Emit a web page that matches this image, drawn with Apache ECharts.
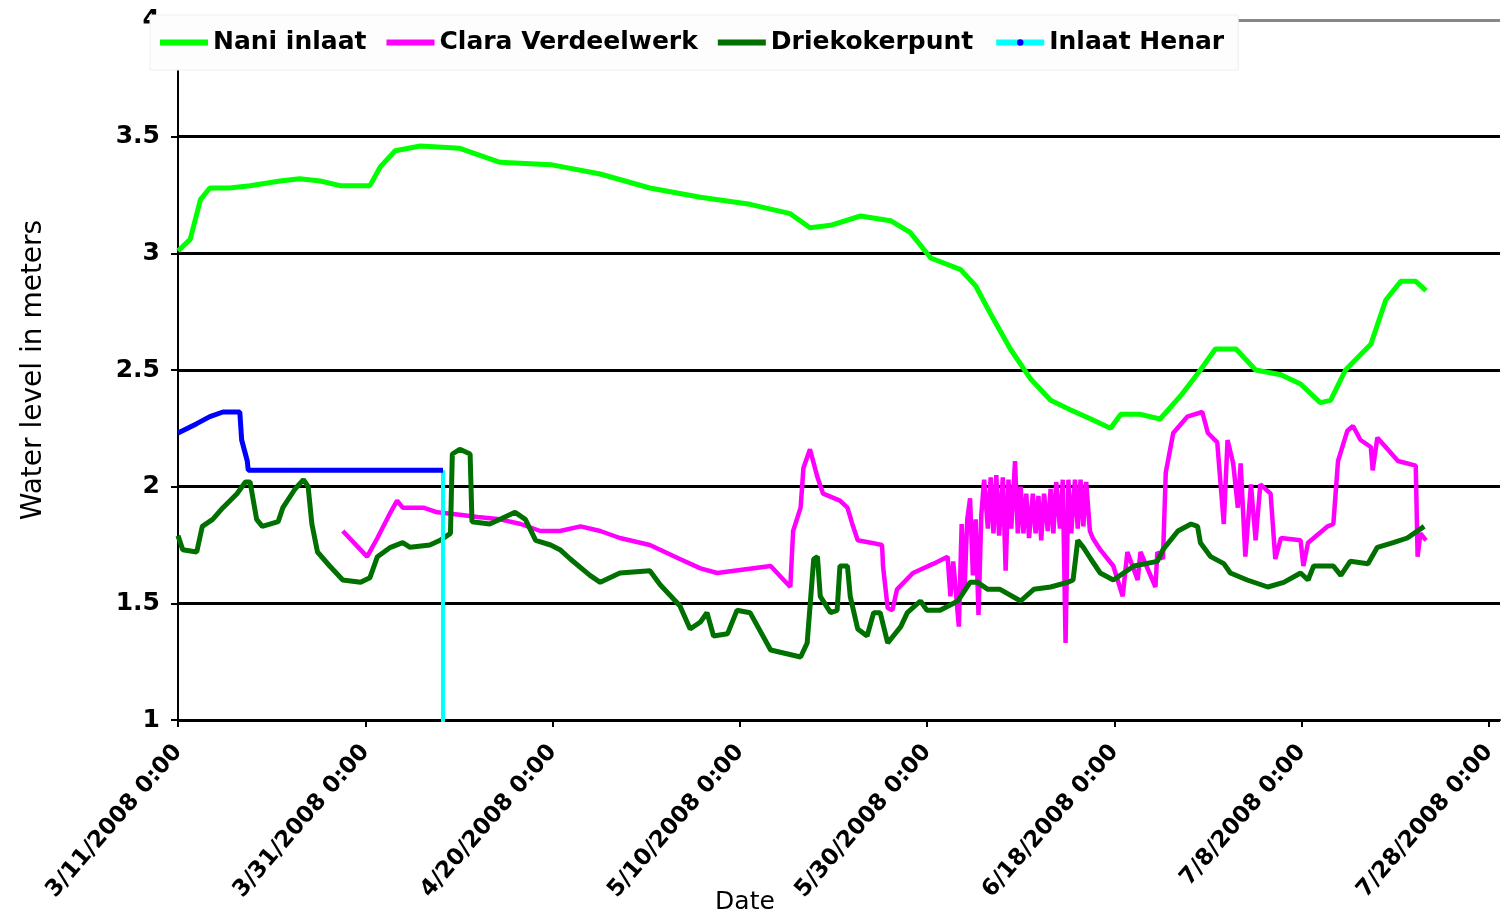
<!DOCTYPE html>
<html>
<head>
<meta charset="utf-8">
<script src="https://cdn.jsdelivr.net/npm/echarts@6/dist/echarts.min.js"></script>
<style>html,body{margin:0;padding:0;background:#fff;}#chart{width:1502px;height:918px;}</style>
</head>
<body>
<div id="chart"></div>
<script>
// x values are days since 3/11/2008 0:00
const xTickLabels = ['3/11/2008 0:00','3/31/2008 0:00','4/20/2008 0:00','5/10/2008 0:00','5/30/2008 0:00','6/18/2008 0:00','7/8/2008 0:00','7/28/2008 0:00'];
const seriesNames = ['Nani inlaat','Clara Verdeelwerk','Driekokerpunt','Inlaat Henar'];

const naniDays = [0,1.3,2.4,3.4,5.5,7.7,10.9,13.0,15.2,17.3,20.5,21.6,23.2,25.9,30.1,34.4,39.8,45.1,50.4,55.8,61.1,65.4,67.5,69.7,72.9,76.1,78.2,80.4,83.6,85.2,86.8,88.9,91.1,93.2,95.3,97.5,99.6,100.7,102.8,104.9,107.1,109.2,110.8,113.0,115.1,117.8,119.9,122.0,123.1,124.7,127.4,129.0,130.6,132.2,133.3];
const naniLevels = [3.01,3.06,3.23,3.28,3.28,3.29,3.31,3.32,3.31,3.29,3.29,3.37,3.44,3.46,3.45,3.39,3.38,3.34,3.28,3.24,3.21,3.17,3.11,3.12,3.16,3.14,3.09,2.98,2.93,2.86,2.74,2.59,2.46,2.37,2.33,2.29,2.25,2.31,2.31,2.29,2.39,2.50,2.59,2.59,2.50,2.48,2.44,2.36,2.37,2.50,2.61,2.80,2.88,2.88,2.84];

const claraDays = [17.6,20.2,21.3,22.7,23.4,24.0,26.2,27.7,30.1,32.0,34.4,36.6,38.7,40.8,43.0,45.1,47.2,50.4,53.6,55.8,57.6,63.3,65.4,65.7,66.5,66.8,67.5,68.3,68.9,70.7,71.5,72.1,72.6,74.0,75.2,75.3,75.8,76.3,76.8,78.5,80.7,82.2,82.5,82.8,
  83.4,83.7,84.0,84.3,84.6,84.9,85.2,85.5,85.8,86.1,86.5,86.8,87.1,87.4,87.7,88.1,88.4,88.7,89.0,89.4,89.7,90.0,90.3,90.6,90.9,91.3,91.6,91.9,92.2,92.5,92.9,93.2,93.5,93.8,94.2,94.5,94.8,95.1,95.4,95.8,96.1,96.4,96.7,97.0,97.4,97.7,
  98.5,99.9,100.9,101.4,102.5,102.8,104.4,104.6,105.2,105.5,106.3,107.8,109.4,110.0,111.0,111.7,112.1,112.7,113.2,113.5,114.0,114.6,115.1,115.6,116.7,117.2,117.8,119.9,120.2,120.7,122.8,123.4,123.9,124.9,125.5,126.3,127.4,127.6,128.1,129.2,130.3,132.2,132.4,132.7,133.3];
const claraLevels = [1.81,1.70,1.78,1.89,1.94,1.91,1.91,1.89,1.88,1.87,1.86,1.84,1.81,1.81,1.83,1.81,1.78,1.75,1.69,1.65,1.63,1.66,1.57,1.81,1.91,2.08,2.16,2.04,1.97,1.94,1.91,1.83,1.77,1.76,1.75,1.66,1.48,1.47,1.56,1.63,1.67,1.70,1.53,1.68,
  1.40,1.84,1.55,1.86,1.95,1.62,1.86,1.45,1.88,2.03,1.82,2.04,1.80,2.05,1.79,2.04,1.64,2.03,1.82,2.11,1.80,2.00,1.80,1.97,1.78,1.97,1.80,1.96,1.77,1.97,1.81,1.99,1.80,2.02,1.82,2.03,1.33,2.03,1.80,2.03,1.82,2.03,1.83,2.02,1.81,1.78,
  1.73,1.66,1.53,1.72,1.60,1.72,1.57,1.72,1.69,2.06,2.23,2.30,2.32,2.23,2.19,1.84,2.20,2.10,1.91,2.10,1.70,2.01,1.77,2.01,1.97,1.69,1.78,1.77,1.66,1.76,1.83,1.84,2.11,2.24,2.26,2.20,2.17,2.07,2.21,2.16,2.11,2.09,1.70,1.80,1.77];

const drieDays = [0,0.5,2.0,2.6,3.7,4.8,6.3,7.2,7.7,8.4,9.0,10.7,11.2,12.5,13.4,13.9,14.3,14.9,16.2,17.6,19.5,20.5,21.3,22.7,24.0,24.8,26.9,28.0,29.1,29.3,30.1,31.2,31.4,33.3,34.4,36.0,37.1,38.2,39.8,40.8,41.9,44.0,45.1,47.2,50.4,51.5,53.6,54.7,55.8,56.5,57.2,58.7,59.7,61.1,63.3,66.5,67.2,67.9,68.3,68.6,69.7,70.4,70.7,71.5,71.8,72.6,73.6,74.3,75.0,75.8,77.2,77.9,79.3,80.0,81.4,83.3,84.6,85.4,86.5,87.8,90.0,91.4,93.2,95.0,95.6,96.1,96.7,97.5,98.5,99.9,102.1,104.6,105.2,106.8,108.2,108.9,109.2,110.3,111.7,112.4,114.2,116.4,118.1,119.9,120.7,121.3,123.4,124.2,125.2,127.1,128.1,129.8,131.3,133.1];
const drieLevels = [1.79,1.73,1.72,1.83,1.86,1.91,1.97,2.02,2.02,1.86,1.83,1.85,1.91,1.99,2.03,2.00,1.84,1.72,1.66,1.60,1.59,1.61,1.70,1.74,1.76,1.74,1.75,1.77,1.80,2.14,2.16,2.14,1.85,1.84,1.86,1.89,1.86,1.77,1.75,1.73,1.69,1.62,1.59,1.63,1.64,1.58,1.49,1.39,1.42,1.46,1.36,1.37,1.47,1.46,1.30,1.27,1.33,1.69,1.70,1.53,1.46,1.47,1.66,1.66,1.53,1.39,1.36,1.46,1.46,1.33,1.40,1.46,1.51,1.47,1.47,1.51,1.59,1.59,1.56,1.56,1.51,1.56,1.57,1.59,1.60,1.77,1.74,1.69,1.63,1.60,1.66,1.68,1.73,1.81,1.84,1.83,1.76,1.70,1.67,1.63,1.60,1.57,1.59,1.63,1.60,1.66,1.66,1.62,1.68,1.67,1.74,1.76,1.78,1.83];

const henarDays = [0,2.0,3.4,4.8,6.6,6.8,7.4,7.5,28.3];
const henarLevels = [2.23,2.27,2.30,2.32,2.32,2.20,2.11,2.07,2.07];
// final reading of Inlaat Henar (drops off the bottom of the axis)
const henarDropDays = [28.3,28.3];
const henarDropLevels = [2.07,0];

const zip = (a,b) => a.map((v,i)=>[v,b[i]]);
const FONT = 'DejaVu Sans';
const BAR_ICON = 'path://M0,0H8V1H0Z';

const chart = echarts.init(document.getElementById('chart'));
chart.setOption({
  animation: false,
  backgroundColor: '#ffffff',
  legend: {
    data: [
      {name: seriesNames[0], icon: BAR_ICON},
      {name: seriesNames[1], icon: BAR_ICON},
      {name: seriesNames[2], icon: BAR_ICON},
      {name: seriesNames[3], lineStyle: {width: 6}}
    ],
    left: 150, top: 15,
    padding: [15, 14, 15, 10],
    itemGap: 20, itemWidth: 48, itemHeight: 8,
    backgroundColor: '#fdfdfd', borderColor: '#eeeeee', borderWidth: 1,
    textStyle: {fontFamily: FONT, fontSize: 25, color: '#000', fontWeight: 'bold'},
    z: 10
  },
  grid: {left: 178, right: 2, top: 20, bottom: 198, outerBoundsMode: 'none'},
  xAxis: {
    type: 'value', min: 0, max: 141.2, interval: 20,
    name: 'Date', nameLocation: 'middle', nameGap: 170, nameMoveOverlap: false,
    nameTextStyle: {fontFamily: FONT, fontSize: 25, color: '#000', padding: [0, 188, 0, 0]},
    axisLine: {lineStyle: {color: '#000', width: 2}},
    axisTick: {show: true, length: 7, lineStyle: {color: '#000', width: 2}},
    splitLine: {show: false},
    axisLabel: {
      rotate: 49, margin: 28, fontFamily: FONT, fontSize: 23, fontWeight: 'bold', color: '#000',
      showMaxLabel: false,
      formatter: v => (Math.abs(v/20 - Math.round(v/20)) < 1e-6 ? (xTickLabels[Math.round(v/20)] || '') : '')
    }
  },
  yAxis: {
    type: 'value', min: 1, max: 4, interval: 0.5,
    name: 'Water level in meters', nameLocation: 'middle', nameGap: 130, nameMoveOverlap: false,
    nameTextStyle: {fontFamily: FONT, fontSize: 28, color: '#000'},
    axisLine: {show: true, lineStyle: {color: '#000', width: 2}},
    axisTick: {show: true, length: 7, lineStyle: {color: '#000', width: 2}},
    splitLine: {show: true, lineStyle: {color: ['#000','#000','#000','#000','#000','#000','#888'], width: 3}},
    axisLabel: {margin: 18, fontFamily: FONT, fontSize: 25, fontWeight: 'bold', color: '#000'}
  },
  series: [
    {name: seriesNames[0], type: 'line', data: zip(naniDays, naniLevels), showSymbol: false, symbol: 'none',
      lineStyle: {color: '#00ff00', width: 5}, itemStyle: {color: '#00ff00'}},
    {name: seriesNames[1], type: 'line', data: zip(claraDays, claraLevels), showSymbol: false, symbol: 'none',
      lineStyle: {color: '#ff00ff', width: 4.5}, itemStyle: {color: '#ff00ff'}},
    {name: seriesNames[2], type: 'line', data: zip(drieDays, drieLevels), showSymbol: false, symbol: 'none',
      lineStyle: {color: '#007000', width: 5}, itemStyle: {color: '#007000'}},
    {name: seriesNames[3], type: 'line', data: zip(henarDropDays, henarDropLevels), symbol: 'circle', symbolSize: 6,
      showSymbol: false,
      lineStyle: {color: '#00ffff', width: 4}, itemStyle: {color: '#0000ff'}},
    {name: seriesNames[3], type: 'line', data: zip(henarDays, henarLevels), showSymbol: false, symbol: 'none',
      lineStyle: {color: '#0000ff', width: 5}, itemStyle: {color: '#0000ff'}}
  ]
});
</script>
</body>
</html>
